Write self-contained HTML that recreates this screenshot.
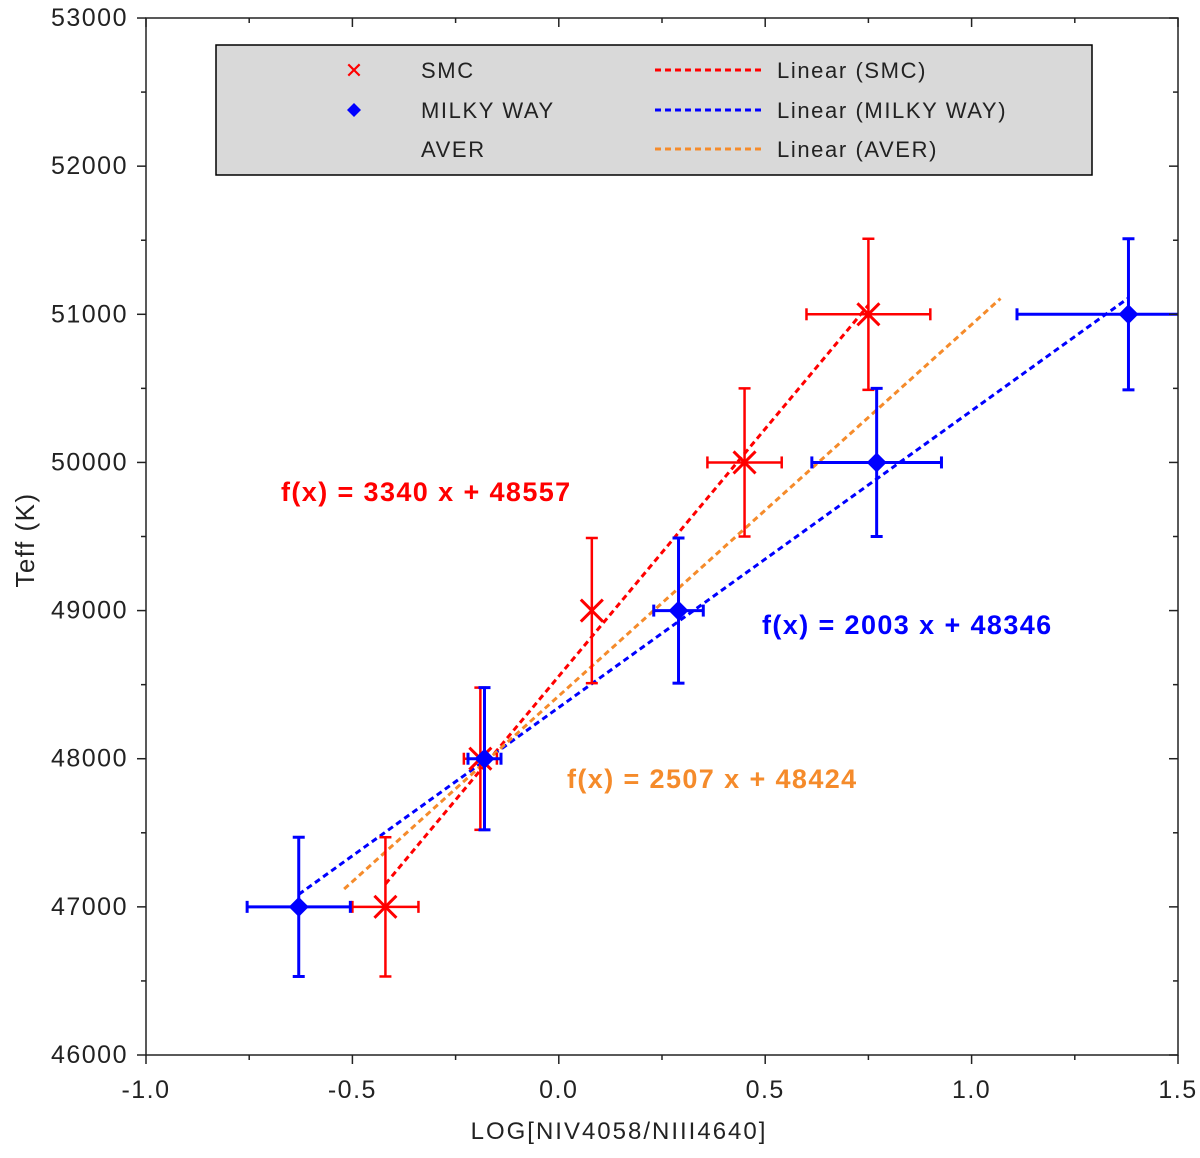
<!DOCTYPE html>
<html><head><meta charset="utf-8"><style>
body{margin:0;background:#fff}
svg{display:block;font-family:"Liberation Sans",sans-serif}
.lg{letter-spacing:1.6px}
.eq{letter-spacing:1.4px}
</style></head><body>
<svg id="chart" width="1200" height="1158">
<rect x="0" y="0" width="1200" height="1158" fill="#fff"/>
<g id="plot" clip-path="url(#cp)"></g>
<defs><clipPath id="cp"><rect x="146" y="18" width="1032" height="1037"/></clipPath></defs>
<g id="axes"></g>
<g>
<rect x="216" y="45" width="876" height="130" fill="#d9d9d9" stroke="#000" stroke-width="1.5"/>
<text x="354" y="78" font-size="22" fill="red" text-anchor="middle">✕</text>
<path d="M354 103 L361 110 L354 117 L347 110Z" fill="blue"/>
<text class="lg" x="421" y="78" font-size="22" fill="#222">SMC</text>
<text class="lg" x="421" y="118" font-size="22" fill="#222">MILKY WAY</text>
<text class="lg" x="421" y="157" font-size="22" fill="#222">AVER</text>
<line x1="655" y1="70" x2="765" y2="70" stroke="red" stroke-width="3" stroke-dasharray="6,4"/>
<line x1="655" y1="110" x2="765" y2="110" stroke="blue" stroke-width="3" stroke-dasharray="6,4"/>
<line x1="655" y1="149" x2="765" y2="149" stroke="#f58b2b" stroke-width="3" stroke-dasharray="6,4"/>
<text class="lg" x="777" y="78" font-size="22" fill="#222">Linear (SMC)</text>
<text class="lg" x="777" y="118" font-size="22" fill="#222">Linear (MILKY WAY)</text>
<text class="lg" x="777" y="157" font-size="22" fill="#222">Linear (AVER)</text>
</g>
<text class="eq" x="281" y="501" font-size="27" font-weight="bold" fill="red">f(x) = 3340 x + 48557</text>
<text class="eq" x="762" y="634" font-size="27" font-weight="bold" fill="blue">f(x) = 2003 x + 48346</text>
<text class="eq" x="567" y="788" font-size="27" font-weight="bold" fill="#f58b2b">f(x) = 2507 x + 48424</text>
<text x="619" y="1139" font-size="24" fill="#222" text-anchor="middle" style="letter-spacing:2px">LOG[NIV4058/NIII4640]</text>
<text transform="translate(34,540) rotate(-90)" font-size="26" fill="#222" text-anchor="middle" style="letter-spacing:1.5px">Teff (K)</text>
</svg>
<script>
const smcX=[-0.42,-0.19,0.08,0.45,0.75];
const smcY=[47000,48000,49000,50000,51000];
const smcXErr=[0.08,0.04,0,0.09,0.15];
const smcYErr=[470,480,490,500,510];
const mwX=[-0.63,-0.18,0.29,0.77,1.38];
const mwY=[47000,48000,49000,50000,51000];
const mwXErr=[0.125,0.04,0.06,0.157,0.27];
const mwYErr=[470,480,490,500,510];
const fits=[{name:'smc',m:3340,b:48557,x0:-0.42,x1:0.75,c:'red'},{name:'mw',m:2003,b:48346,x0:-0.63,x1:1.38,c:'blue'},{name:'aver',m:2507,b:48424,x0:-0.52,x1:1.07,c:'#f58b2b'}];
const xTicks=[-1.0,-0.5,0.0,0.5,1.0,1.5];
const yTicks=[46000,47000,48000,49000,50000,51000,52000,53000];
const X=v=>146+(v+1)*412.8, Y=v=>1055-(v-46000)*0.14814;
const NS='http://www.w3.org/2000/svg';
function mk(p,t,a){const e=document.createElementNS(NS,t);for(const k in a)e.setAttribute(k,a[k]);p.appendChild(e);return e;}
const plot=document.getElementById('plot'),axes=document.getElementById('axes');
fits.forEach(f=>{const l=mk(plot,'line',{x1:X(f.x0),y1:Y(f.m*f.x0+f.b),x2:X(f.x1),y2:Y(f.m*f.x1+f.b),stroke:f.c,'stroke-width':3,'stroke-dasharray':'6,4'});

});
function errs(xs,ys,xe,ye,c,w){xs.forEach((x,i)=>{const g=mk(plot,'g',{stroke:c,'stroke-width':w,fill:'none'});


const cx=X(x),cy=Y(ys[i]),t=Y(ys[i]+ye[i]),b=Y(ys[i]-ye[i]);
mk(g,'line',{x1:cx,y1:t,x2:cx,y2:b});mk(g,'line',{x1:cx-6,y1:t,x2:cx+6,y2:t});mk(g,'line',{x1:cx-6,y1:b,x2:cx+6,y2:b});
if(xe[i]>0){const l=X(x-xe[i]),r=X(x+xe[i]);mk(g,'line',{x1:l,y1:cy,x2:r,y2:cy});mk(g,'line',{x1:l,y1:cy-6,x2:l,y2:cy+6});mk(g,'line',{x1:r,y1:cy-6,x2:r,y2:cy+6});}});}
errs(smcX,smcY,smcXErr,smcYErr,'red',2.5);
errs(mwX,mwY,mwXErr,mwYErr,'blue',3);
smcX.forEach((x,i)=>{const cx=X(x),cy=Y(smcY[i]);const p=mk(plot,'path',{d:`M${cx-11} ${cy-11}L${cx+11} ${cy+11}M${cx+11} ${cy-11}L${cx-11} ${cy+11}`,stroke:'red','stroke-width':3});

});
mwX.forEach((x,i)=>{const cx=X(x),cy=Y(mwY[i]);const p=mk(plot,'path',{d:`M${cx} ${cy-10}L${cx+10} ${cy}L${cx} ${cy+10}L${cx-10} ${cy}Z`,fill:'blue'});

});
mk(axes,'rect',{x:146,y:18,width:1032,height:1037,fill:'none',stroke:'#222','stroke-width':1.5});
for(let v=-1;v<=1.5001;v+=0.25){const x=X(v),maj=Math.abs(v*2-Math.round(v*2))<1e-6;
mk(axes,'line',{x1:x,y1:1055,x2:x,y2:1055+(maj?9:5),stroke:'#222','stroke-width':1.5});
mk(axes,'line',{x1:x,y1:18,x2:x,y2:18+(maj?9:5),stroke:'#222','stroke-width':1.5});}
for(let v=46000;v<=53000;v+=500){const y=Y(v),maj=v%1000===0;
mk(axes,'line',{x1:146-(maj?9:5),y1:y,x2:146,y2:y,stroke:'#222','stroke-width':1.5});
mk(axes,'line',{x1:1178-(maj?9:5),y1:y,x2:1178,y2:y,stroke:'#222','stroke-width':1.5});}
xTicks.forEach(v=>{const t=mk(axes,'text',{x:X(v),y:1098,'font-size':25,fill:'#222','text-anchor':'middle',style:'letter-spacing:1.5px'});t.textContent=v.toFixed(1);

});
yTicks.forEach(v=>{const t=mk(axes,'text',{x:128,y:Y(v)+8,'font-size':25,fill:'#222','text-anchor':'end',style:'letter-spacing:1.5px'});t.textContent=v;

});
</script>
</body></html>
